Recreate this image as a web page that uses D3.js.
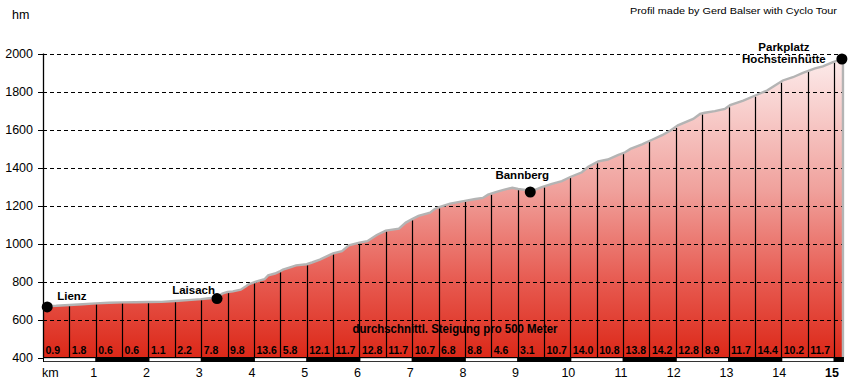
<!DOCTYPE html>
<html>
<head>
<meta charset="utf-8">
<script src="https://cdn.jsdelivr.net/npm/d3@7"></script>
<style>
  html, body { margin: 0; padding: 0; background: #fff; }
  svg { display: block; }
  text { font-family: "Liberation Sans", Arial, sans-serif; fill: #000; }
</style>
</head>
<body>
<svg id="chart" width="850" height="382"></svg>
<script>
// ---- data ----
const profileKm = [0.00,0.25,0.50,0.75,1.00,1.25,1.50,1.75,2.00,2.25,2.50,2.75,3.00,3.15,3.30,3.40,3.50,3.60,3.75,3.85,3.90,4.00,4.10,4.20,4.27,4.40,4.50,4.55,4.70,4.80,5.00,5.10,5.25,5.40,5.50,5.67,5.80,6.00,6.15,6.33,6.50,6.75,6.88,7.00,7.12,7.34,7.43,7.50,7.72,8.00,8.20,8.34,8.44,8.60,8.75,8.90,9.01,9.15,9.33,9.46,9.65,9.84,10.00,10.22,10.34,10.53,10.71,10.90,11.04,11.14,11.36,11.55,11.74,11.90,12.04,12.33,12.46,12.55,12.74,12.93,13.03,13.28,13.54,13.73,13.88,14.03,14.22,14.41,14.64,14.79,14.98,15.11,15.17];
const profileElev = [670,672,676,680,685,688,690,691,692,693,697,702,707,712,716,736,745,748,757,775,785,796,805,812,832,842,855,862,876,885,891,900,915,935,948,960,990,1005,1012,1045,1068,1078,1110,1128,1145,1162,1182,1190,1210,1224,1234,1240,1257,1272,1284,1293,1287,1282,1282,1297,1314,1328,1350,1375,1404,1432,1442,1465,1480,1498,1522,1546,1570,1595,1622,1656,1682,1688,1697,1708,1728,1752,1783,1805,1832,1858,1875,1898,1922,1932,1955,1966,1970];

const elevTicks = [400,600,800,1000,1200,1400,1600,1800,2000];
const kmTicks = [1,2,3,4,5,6,7,8,9,10,11,12,13,14,15];
const gradientPct = ["0.9","1.8","0.6","0.6","1.1","2.2","7.8","9.8","13.6","5.8","12.1","11.7","12.8","11.7","10.7","6.8","8.8","4.6","3.1","10.7","14.0","10.8","13.8","14.2","12.8","8.9","11.7","14.4","10.2","11.7"];

const waypointNames = ["Lienz","Laisach","Bannberg","Parkplatz|Hochsteinhütte"];
const waypointKm = [0.08,3.30,9.24,15.15];
const waypointElev = [666,710,1271,1971];

// ---- layout ----
const svg = d3.select("#chart");
const x = d3.scaleLinear().domain([0,15]).range([43,834]);
const y = d3.scaleLinear().domain([400,2000]).range([357.5,53.5]);
const lastKm = profileKm[profileKm.length-1];
const pts = profileKm.map((k,i)=>[k,profileElev[i]]);
const elevAt = d3.scaleLinear().domain(profileKm).range(profileElev);

// gradient fill
const defs = svg.append("defs");
const lg = defs.append("linearGradient").attr("id","fillGrad")
  .attr("gradientUnits","userSpaceOnUse").attr("x1",0).attr("x2",0)
  .attr("y1",y(2000)).attr("y2",y(400));
lg.append("stop").attr("offset","0%").attr("stop-color","#fdeeee");
lg.append("stop").attr("offset","45%").attr("stop-color","#f0a19c");
lg.append("stop").attr("offset","75%").attr("stop-color","#e75a50");
lg.append("stop").attr("offset","100%").attr("stop-color","#dc2818");

const area = d3.area().x(d=>x(d[0])).y0(y(400)).y1(d=>y(d[1]));
svg.append("path").datum(pts).attr("d",area).attr("fill","url(#fillGrad)");

// horizontal dashed grid
svg.append("g").selectAll("line").data(elevTicks.filter(v=>v>400)).join("line")
  .attr("x1",x(0)).attr("x2",x(lastKm)+1)
  .attr("y1",d=>Math.round(y(d))+0.5).attr("y2",d=>Math.round(y(d))+0.5)
  .attr("stroke","#000").attr("stroke-width",1).attr("stroke-dasharray","4,3");

// vertical 500 m lines
const halfKm = d3.range(1,31).map(i=>i*0.5);
svg.append("g").selectAll("line").data(halfKm).join("line")
  .attr("x1",d=>Math.round(x(d))+0.5).attr("x2",d=>Math.round(x(d))+0.5)
  .attr("y1",y(400)).attr("y2",d=>y(elevAt(d))+1)
  .attr("stroke","#000").attr("stroke-width",1.2);

// profile outline (grey)
const outline = pts.concat([[lastKm,400]]);
svg.append("path").datum(outline)
  .attr("d",d3.line().x(d=>x(d[0])).y(d=>y(d[1])))
  .attr("fill","none").attr("stroke","#b4b4b4").attr("stroke-width",2.4)
  .attr("stroke-linejoin","miter");

// left axis line
svg.append("line").attr("x1",x(0)+0.5).attr("x2",x(0)+0.5)
  .attr("y1",y(2000)).attr("y2",y(400)).attr("stroke","#000").attr("stroke-width",1.3);
// y ticks
const yt = svg.append("g");
yt.selectAll("line").data(elevTicks).join("line")
  .attr("x1",38).attr("x2",x(0))
  .attr("y1",d=>Math.round(y(d))+0.5).attr("y2",d=>Math.round(y(d))+0.5)
  .attr("stroke","#000");
yt.selectAll("text").data(elevTicks).join("text")
  .attr("x",33).attr("y",d=>y(d)+4.5).attr("text-anchor","end")
  .attr("font-size","12.5px").text(d=>d);
svg.append("text").attr("x",12).attr("y",19).attr("font-size","12.5px").text("hm");

// km bar
const barG = svg.append("g");
barG.append("rect").attr("x",x(0)).attr("y",357).attr("width",x(lastKm)-x(0)+1).attr("height",5).attr("fill","#000");
barG.selectAll("rect.w").data(d3.range(0,15,2)).join("rect").attr("class","w")
  .attr("x",d=>x(d)+1).attr("y",358.2).attr("width",d=>x(d+1)-x(d)-1.5).attr("height",3)
  .attr("fill","#fff");

// km labels
svg.append("text").attr("x",42).attr("y",377).attr("font-size","12.5px").text("km");
svg.append("g").selectAll("text").data(kmTicks).join("text")
  .attr("x",d=>x(d)-2).attr("y",377).attr("text-anchor","middle")
  .attr("font-size","12.5px").attr("font-weight",d=>d===15?"bold":"normal").text(d=>d);

// gradient labels
svg.append("g").selectAll("text").data(gradientPct).join("text")
  .attr("x",(d,i)=>x(i*0.5)+2.5).attr("y",354)
  .attr("font-size","10.5px").attr("font-weight","bold").text(d=>d);

svg.append("text").attr("x",455).attr("y",333).attr("text-anchor","middle")
  .attr("font-size","12px").attr("font-weight","bold")
  .attr("textLength",205).attr("lengthAdjust","spacingAndGlyphs")
  .text("durchschnittl. Steigung pro 500 Meter");

// waypoints
const labelOffsets = [[10,-7,"start"],[-2,-5,"end"],[-8,-13,"middle"],[-58,4,"middle"]];
const wp = svg.append("g");
waypointNames.forEach((name,i)=>{
  const cx = x(waypointKm[i]), cy = y(waypointElev[i]);
  wp.append("circle").attr("cx",cx).attr("cy",cy).attr("r",5.5).attr("fill","#000");
  const [dx,dy,anchor] = labelOffsets[i];
  const lines = name.split("|");
  lines.forEach((ln,j)=>{
    wp.append("text").attr("x",cx+dx).attr("y",cy+dy-(lines.length-1-j)*12.5)
      .attr("text-anchor",anchor).attr("font-size","11.5px").attr("font-weight","bold").text(ln);
  });
});

// credit
svg.append("text").attr("x",837).attr("y",14).attr("text-anchor","end")
  .attr("font-family","DejaVu Sans, Verdana, sans-serif").attr("font-size","9px")
  .attr("textLength",207).attr("lengthAdjust","spacingAndGlyphs")
  .text("Profil made by Gerd Balser with Cyclo Tour");
</script>
</body>
</html>
